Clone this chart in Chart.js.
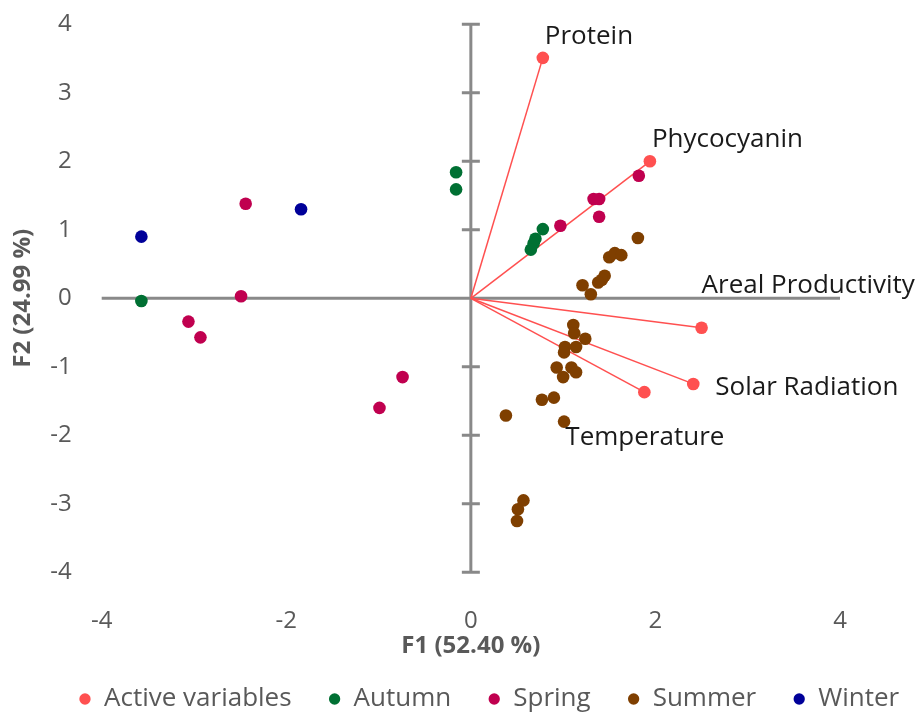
<!DOCTYPE html>
<html>
<head>
<meta charset="utf-8">
<script src="https://cdn.jsdelivr.net/npm/chart.js@4.4.1/dist/chart.umd.min.js"></script>
<style>
  html, body { margin: 0; padding: 0; background: #fff; }
</style>
</head>
<body>
<canvas id="myChart" width="922" height="715"></canvas>
<script>
// active variables (loadings, scaled) on F1 / F2
const variableNames = ['Protein', 'Phycocyanin', 'Areal Productivity', 'Solar Radiation', 'Temperature']
const variableF1 = [0.78, 1.94, 2.5, 2.41, 1.88]
const variableF2 = [3.51, 2.0, -0.43, -1.25, -1.37]

// observations by season
const autumnF1 = [-3.57, -0.16, -0.16, 0.78, 0.7, 0.68, 0.65]
const autumnF2 = [-0.04, 1.84, 1.59, 1.01, 0.87, 0.8, 0.71]

const springF1 = [-2.44, -2.49, -3.06, -2.93, -0.74, -0.99, 1.82, 1.33, 1.39, 1.39, 0.97]
const springF2 = [1.38, 0.03, -0.34, -0.57, -1.15, -1.6, 1.79, 1.45, 1.45, 1.19, 1.06]

const summerF1 = [
  1.81, 1.5, 1.56, 1.63, 1.45, 1.42, 1.38, 1.21, 1.3, 1.11, 1.12, 1.24, 1.02,
  1.14, 1.01, 0.93, 1.09, 1.14, 1.0, 0.77, 0.9, 0.38, 1.01, 0.57, 0.51, 0.5,
]
const summerF2 = [
  0.88, 0.6, 0.66, 0.63, 0.33, 0.27, 0.23, 0.19, 0.06, -0.39, -0.51, -0.59, -0.71,
  -0.71, -0.79, -1.01, -1.01, -1.08, -1.15, -1.48, -1.45, -1.71, -1.8, -2.95, -3.08, -3.25,
]

const winterF1 = [-3.57, -1.84]
const winterF2 = [0.9, 1.3]

const axisTicks = [-4, -3, -2, -1, 0, 1, 2, 3, 4]

// where each variable name sits relative to its point (px)
const labelOffsets = [
  [2, -14],
  [2, -14],
  [0, -35],
  [22, 11],
  [-79, 53],
]

const activeColor = '#ff5050'
const gray = '#595959'

const toPoints = (xs, ys) => xs.map((x, i) => ({ x: x, y: ys[i] }))

const vectors = variableNames.map((name, i) => ({
  label: name,
  data: [
    { x: 0, y: 0 },
    { x: variableF1[i], y: variableF2[i] },
  ],
  showLine: true,
  borderColor: activeColor,
  borderWidth: 1.5,
  pointRadius: 0,
  order: 10,
}))

const dot = (label, color, points) => ({
  label: label,
  data: points,
  backgroundColor: color,
  borderColor: color,
  borderWidth: 0,
  pointRadius: 6.3,
  order: 1,
})

const data = {
  datasets: [
    { ...dot('Active variables', activeColor, toPoints(variableF1, variableF2)), order: 0 },
    dot('Autumn', '#007033', toPoints(autumnF1, autumnF2)),
    dot('Spring', '#c0004f', toPoints(springF1, springF2)),
    dot('Summer', '#7f3f00', toPoints(summerF1, summerF2)),
    dot('Winter', '#000099', toPoints(winterF1, winterF2)),
    ...vectors,
  ],
}

// gray cross through the origin, with tick marks on the vertical one
const originAxes = {
  id: 'originAxes',
  beforeDatasetsDraw(chart) {
    const {
      ctx,
      scales: { x, y },
    } = chart
    const x0 = x.getPixelForValue(0)
    const y0 = y.getPixelForValue(0)
    ctx.save()
    ctx.strokeStyle = '#898989'
    ctx.lineWidth = 3
    ctx.beginPath()
    ctx.moveTo(x.left, y0)
    ctx.lineTo(x.right, y0)
    ctx.moveTo(x0, y.top)
    ctx.lineTo(x0, y.bottom)
    axisTicks.forEach((value) => {
      const py = y.getPixelForValue(value)
      ctx.moveTo(x0 - 9, py)
      ctx.lineTo(x0 + 9, py)
    })
    ctx.stroke()
    ctx.restore()
  },
}

const variableLabels = {
  id: 'variableLabels',
  afterDatasetsDraw(chart) {
    const {
      ctx,
      scales: { x, y },
    } = chart
    ctx.save()
    ctx.font = '26px "Open Sans"'
    ctx.fillStyle = '#1a1a1a'
    ctx.textAlign = 'left'
    ctx.textBaseline = 'alphabetic'
    variableNames.forEach((name, i) => {
      const px = x.getPixelForValue(variableF1[i]) + labelOffsets[i][0]
      const py = y.getPixelForValue(variableF2[i]) + labelOffsets[i][1]
      ctx.fillText(name, px, py)
    })
    ctx.restore()
  },
}

// one-row legend with a fixed height, spread across the whole canvas width
const legendBox = {
  id: 'legendBox',
  beforeInit(chart) {
    const fitValue = chart.legend.fit
    chart.legend.fit = function fit() {
      this.maxWidth = chart.width + 100
      fitValue.bind(chart.legend)()
      this.height = 66
    }
  },
  afterLayout(chart) {
    chart.legend.left = 42
    chart.legend.right = chart.width + 100
  },
}

Chart.defaults.font.family = '"Open Sans", sans-serif'

const config = {
  type: 'scatter',
  data: data,
  options: {
    responsive: false,
    animation: false,
    layout: { padding: { top: 24.3, right: 82, left: 0, bottom: 0 } },
    scales: {
      x: {
        min: -4,
        max: 4,
        grid: { display: false, drawTicks: false },
        border: { display: false },
        ticks: { stepSize: 2, padding: 34, color: gray, font: { size: 24 } },
        title: {
          display: true,
          text: 'F1 (52.40 %)',
          color: gray,
          font: { size: 24, weight: 'bold' },
          padding: { top: 0, bottom: -12 },
        },
        afterFit(scale) {
          scale.height = 76.7
          scale.paddingLeft = 0
          scale.paddingRight = 0
        },
      },
      y: {
        min: -4,
        max: 4,
        grid: { display: false, drawTicks: false },
        border: { display: false },
        ticks: { stepSize: 1, padding: 30, color: gray, font: { size: 24 } },
        title: {
          display: true,
          text: 'F2 (24.99 %)',
          color: gray,
          font: { size: 24, weight: 'bold' },
          padding: { top: 9, bottom: 0 },
        },
        afterFit(scale) {
          scale.width = 101.7
          scale.paddingTop = 0
          scale.paddingBottom = 0
        },
      },
    },
    plugins: {
      tooltip: { enabled: false },
      legend: {
        position: 'bottom',
        align: 'start',
        labels: {
          filter: (item) => item.datasetIndex < 5,
          usePointStyle: true,
          pointStyle: 'circle',
          boxWidth: 12,
          boxHeight: 8,
          padding: 37,
          color: gray,
          font: { size: 26 },
        },
      },
    },
  },
  plugins: [originAxes, variableLabels, legendBox],
}

const myChart = new Chart(document.getElementById('myChart'), config)
</script>
</body>
</html>
